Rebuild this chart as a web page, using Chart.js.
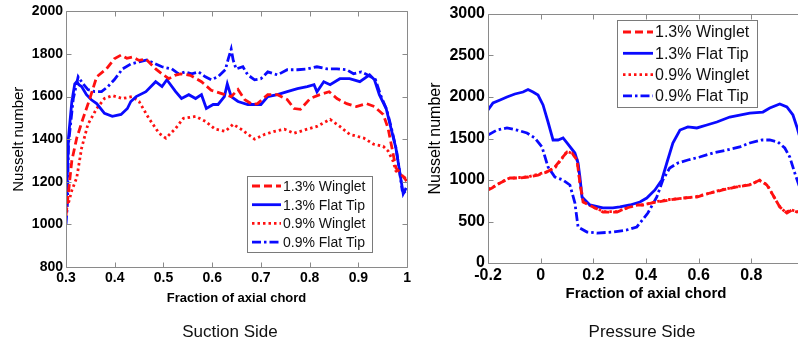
<!DOCTYPE html>
<html>
<head>
<meta charset="utf-8">
<script src="https://cdn.jsdelivr.net/npm/chart.js@4.4.1/dist/chart.umd.min.js"></script>
<style>
  html, body { margin: 0; padding: 0; background: #fff; overflow: hidden; }
  body { width: 798px; height: 344px; position: relative; }
  .panel { position: absolute; top: 0; height: 344px; }
  #suction { left: 0; width: 414px; }
  #pressure { left: 400px; width: 420px; }
  .caption { position: absolute; top: 322px; font: 17px "Liberation Sans", Arial, sans-serif; color: #111; transform: translateX(-50%); white-space: nowrap; }
</style>
</head>
<body>
<div class="panel" id="suction"><canvas id="c1"></canvas></div>
<div class="panel" id="pressure"><canvas id="c2"></canvas></div>
<div class="caption" style="left:230px">Suction Side</div>
<div class="caption" style="left:642px">Pressure Side</div>
<script>
// series labels
const seriesNames = ["1.3% Winglet", "1.3% Flat Tip", "0.9% Winglet", "0.9% Flat Tip"];

// suction side: [fraction of axial chord, Nusselt number]
const sucWinglet13 = [[0.300,1040],[0.305,1150],[0.312,1300],[0.322,1405],[0.335,1498],[0.349,1591],[0.363,1693],[0.383,1730],[0.399,1777],[0.413,1795],[0.425,1780],[0.436,1786],[0.450,1770],[0.464,1777],[0.484,1730],[0.498,1705],[0.511,1684],[0.523,1700],[0.535,1707],[0.555,1700],[0.578,1670],[0.598,1630],[0.618,1615],[0.639,1600],[0.653,1633],[0.667,1585],[0.683,1563],[0.693,1567],[0.714,1609],[0.734,1609],[0.754,1586],[0.768,1544],[0.781,1540],[0.801,1591],[0.821,1609],[0.840,1623],[0.856,1591],[0.876,1567],[0.896,1553],[0.917,1567],[0.933,1553],[0.951,1516],[0.961,1451],[0.977,1265],[0.994,1219],[1.000,1200]];
const sucFlat13 = [[0.300,1080],[0.303,1250],[0.305,1405],[0.312,1577],[0.318,1660],[0.322,1670],[0.327,1655],[0.332,1647],[0.342,1609],[0.352,1585],[0.363,1567],[0.379,1521],[0.395,1507],[0.413,1516],[0.426,1544],[0.433,1577],[0.444,1600],[0.464,1623],[0.484,1670],[0.497,1647],[0.507,1679],[0.525,1623],[0.537,1591],[0.552,1609],[0.566,1591],[0.578,1609],[0.588,1544],[0.602,1563],[0.612,1563],[0.625,1600],[0.631,1660],[0.639,1600],[0.653,1577],[0.673,1563],[0.700,1563],[0.714,1600],[0.734,1609],[0.754,1623],[0.775,1637],[0.795,1647],[0.809,1656],[0.815,1623],[0.829,1670],[0.842,1656],[0.862,1684],[0.882,1684],[0.903,1670],[0.923,1702],[0.933,1679],[0.943,1609],[0.957,1544],[0.967,1451],[0.977,1358],[0.992,1144],[0.998,1172]];
const sucWinglet09 = [[0.300,1080],[0.305,1100],[0.312,1160],[0.322,1219],[0.332,1358],[0.345,1470],[0.363,1544],[0.379,1591],[0.395,1605],[0.416,1591],[0.436,1600],[0.450,1577],[0.470,1498],[0.491,1428],[0.505,1405],[0.525,1451],[0.541,1498],[0.566,1507],[0.586,1484],[0.606,1447],[0.627,1437],[0.643,1470],[0.659,1447],[0.687,1400],[0.708,1423],[0.728,1437],[0.748,1447],[0.768,1428],[0.795,1447],[0.815,1460],[0.842,1493],[0.862,1460],[0.882,1423],[0.911,1405],[0.931,1377],[0.951,1367],[0.961,1344],[0.971,1298],[0.977,1251],[0.994,1219],[1.000,1230]];
const sucFlat09 = [[0.300,1000],[0.303,1100],[0.305,1377],[0.315,1591],[0.325,1693],[0.335,1660],[0.345,1633],[0.359,1623],[0.373,1623],[0.386,1647],[0.399,1679],[0.416,1730],[0.433,1753],[0.450,1763],[0.466,1772],[0.484,1753],[0.497,1740],[0.517,1730],[0.531,1707],[0.545,1716],[0.558,1707],[0.572,1716],[0.586,1693],[0.598,1679],[0.612,1693],[0.627,1726],[0.633,1777],[0.639,1823],[0.643,1772],[0.649,1730],[0.663,1740],[0.673,1702],[0.687,1679],[0.700,1684],[0.714,1716],[0.734,1702],[0.754,1726],[0.775,1726],[0.795,1730],[0.815,1740],[0.836,1730],[0.856,1730],[0.876,1726],[0.890,1707],[0.906,1716],[0.920,1700],[0.935,1680],[0.945,1610],[0.958,1540],[0.968,1450],[0.978,1350],[0.990,1160],[1.000,1140]];

// pressure side
const preWinglet13 = [[-0.200,880],[-0.185,904],[-0.154,964],[-0.117,1024],[-0.079,1024],[-0.048,1036],[-0.010,1060],[0.024,1096],[0.054,1157],[0.081,1265],[0.100,1337],[0.119,1325],[0.138,1241],[0.149,964],[0.161,735],[0.199,675],[0.237,614],[0.290,614],[0.327,663],[0.369,699],[0.388,699],[0.441,735],[0.490,759],[0.540,783],[0.593,795],[0.643,843],[0.692,880],[0.745,916],[0.794,940],[0.832,1000],[0.859,940],[0.882,819],[0.908,675],[0.935,602],[0.954,639],[0.973,614],[1.000,640]];
const preFlat13 = [[-0.200,1843],[-0.181,1928],[-0.154,1964],[-0.128,2000],[-0.098,2036],[-0.067,2060],[-0.048,2090],[-0.029,2060],[-0.010,2024],[0.009,1904],[0.028,1699],[0.047,1482],[0.066,1482],[0.085,1506],[0.100,1446],[0.130,1325],[0.142,1205],[0.149,1036],[0.157,795],[0.187,699],[0.236,663],[0.274,663],[0.301,675],[0.339,699],[0.377,735],[0.403,783],[0.434,880],[0.460,1000],[0.479,1205],[0.502,1446],[0.529,1602],[0.559,1639],[0.593,1627],[0.631,1663],[0.669,1699],[0.718,1759],[0.756,1783],[0.794,1807],[0.844,1819],[0.870,1867],[0.908,1916],[0.935,1880],[0.958,1783],[0.973,1639],[0.990,1450],[1.000,1380]];
const preWinglet09 = [[-0.200,890],[-0.180,915],[-0.150,975],[-0.120,1020],[-0.080,1030],[-0.045,1040],[-0.010,1070],[0.025,1100],[0.055,1150],[0.080,1255],[0.100,1345],[0.120,1320],[0.138,1250],[0.150,960],[0.162,740],[0.200,670],[0.240,620],[0.290,620],[0.330,665],[0.370,705],[0.390,700],[0.440,740],[0.490,765],[0.540,780],[0.590,800],[0.640,840],[0.690,885],[0.745,920],[0.795,945],[0.830,995],[0.860,945],[0.880,830],[0.905,690],[0.930,610],[0.950,640],[0.975,620],[1.000,630]];
const preFlat09 = [[-0.200,1542],[-0.166,1602],[-0.128,1627],[-0.090,1602],[-0.052,1566],[-0.022,1506],[0.005,1398],[0.028,1157],[0.054,1036],[0.085,1000],[0.111,940],[0.130,723],[0.142,434],[0.176,373],[0.214,361],[0.274,373],[0.327,398],[0.365,434],[0.377,482],[0.407,602],[0.441,795],[0.464,1000],[0.490,1145],[0.521,1205],[0.559,1241],[0.604,1277],[0.654,1325],[0.707,1361],[0.756,1398],[0.794,1446],[0.840,1482],[0.870,1482],[0.901,1458],[0.927,1386],[0.946,1277],[0.965,1084],[0.985,900],[1.000,850]];

Chart.defaults.font.family = '"Liberation Sans", Arial, sans-serif';
Chart.defaults.color = '#000';

const RED = '#ff1010', BLUE = '#0a0aff';
const styles = [
  { color: RED,  dash: [8, 4] },
  { color: BLUE, dash: [] },
  { color: RED,  dash: [2.5, 3] },
  { color: BLUE, dash: [9, 3, 2.5, 3] },
];

function makeSets(list) {
  return list.map((pts, i) => ({
    label: seriesNames[i],
    data: pts.map(p => ({ x: p[0], y: p[1] })),
    borderColor: styles[i].color,
    borderDash: styles[i].dash,
    borderWidth: 2.8,
    pointRadius: 0,
    fill: false,
    tension: 0,
  }));
}

// box around the plot with inward ticks on all four sides
const frame = {
  id: 'frame',
  afterDatasetsDraw(chart) {
    const { ctx, chartArea: a, scales } = chart;
    const L = Math.round(a.left) + 0.5, R = Math.round(a.right) + 0.5;
    const T = Math.round(a.top) + 0.5, B = Math.round(a.bottom) + 0.5;
    ctx.save();
    ctx.strokeStyle = '#8a8a8a';
    ctx.lineWidth = 1;
    ctx.setLineDash([]);
    ctx.beginPath();
    ctx.rect(L, T, R - L, B - T);
    scales.x.ticks.forEach(t => {
      const px = Math.round(scales.x.getPixelForValue(t.value)) + 0.5;
      ctx.moveTo(px, B); ctx.lineTo(px, B - 5);
      ctx.moveTo(px, T); ctx.lineTo(px, T + 5);
    });
    scales.y.ticks.forEach(t => {
      const py = Math.round(scales.y.getPixelForValue(t.value)) + 0.5;
      ctx.moveTo(L, py); ctx.lineTo(L + 5, py);
      ctx.moveTo(R, py); ctx.lineTo(R - 5, py);
    });
    ctx.stroke();
    ctx.restore();
  }
};

// legend drawn as a boxed list inside the plot
const boxLegend = {
  id: 'boxLegend',
  afterDraw(chart, args, o) {
    const ctx = chart.ctx;
    ctx.save();
    ctx.fillStyle = '#fff';
    ctx.fillRect(o.x, o.y, o.w, o.h);
    ctx.strokeStyle = '#7a7a7a';
    ctx.lineWidth = 1;
    ctx.strokeRect(o.x + 0.5, o.y + 0.5, o.w, o.h);
    ctx.font = o.font + 'px "Liberation Sans", Arial, sans-serif';
    ctx.textBaseline = 'middle';
    chart.data.datasets.forEach((ds, i) => {
      const yy = o.y + o.first + i * o.row;
      ctx.strokeStyle = ds.borderColor;
      ctx.lineWidth = ds.borderWidth;
      ctx.setLineDash(ds.borderDash);
      ctx.beginPath();
      ctx.moveTo(o.x + o.pad, yy);
      ctx.lineTo(o.x + o.pad + o.sample, yy);
      ctx.stroke();
      ctx.setLineDash([]);
      ctx.fillStyle = '#111';
      ctx.fillText(ds.label, o.x + o.pad + o.sample + 2, yy + 1);
    });
    ctx.restore();
  }
};

function makeOptions(cfg) {
  return {
    responsive: true,
    maintainAspectRatio: false,
    animation: false,
    layout: { autoPadding: false, padding: cfg.padding },
    plugins: {
      legend: { display: false },
      tooltip: { enabled: false },
      boxLegend: cfg.legend,
    },
    scales: {
      x: {
        type: 'linear',
        min: cfg.xMin, max: cfg.xMax,
        afterFit: s => { s.height = cfg.xHeight; },
        grid: { display: false, drawTicks: false },
        border: { display: false },
        ticks: {
          stepSize: cfg.xStep, padding: 3, maxRotation: 0, autoSkip: false,
          font: { size: cfg.tickSize, weight: 'bold' },
          callback: v => String(+v.toFixed(1)),
        },
        title: {
          display: true, text: 'Fraction of axial chord',
          font: { size: cfg.xTitleSize, weight: 'bold' },
          padding: { top: 0, bottom: cfg.xTitlePad },
        },
      },
      y: {
        min: cfg.yMin, max: cfg.yMax,
        afterFit: s => { s.width = cfg.yWidth; },
        grid: { display: false, drawTicks: false },
        border: { display: false },
        ticks: {
          stepSize: cfg.yStep, padding: 3,
          font: { size: cfg.tickSize, weight: 'bold' },
          callback: v => String(v),
        },
        title: {
          display: true, text: 'Nusselt number',
          font: { size: cfg.yTitleSize },
          padding: { top: cfg.yTitlePad, bottom: 0 },
        },
      },
    },
  };
}

new Chart(document.getElementById('c1'), {
  type: 'line',
  data: { datasets: makeSets([sucWinglet13, sucFlat13, sucWinglet09, sucFlat09]) },
  options: makeOptions({
    padding: { left: 0, right: 3, top: 9, bottom: 0 },
    tickSize: 14, xTitleSize: 13, yTitleSize: 15,
    xMin: 0.3, xMax: 1, xStep: 0.1, xHeight: 77, xTitlePad: 38,
    yMin: 800, yMax: 2000, yStep: 200, yWidth: 66, yTitlePad: 10,
    legend: { x: 247, y: 176, w: 125, h: 76, first: 10, row: 18.7, pad: 5, sample: 29, font: 14 },
  }),
  plugins: [frame, boxLegend],
});

new Chart(document.getElementById('c2'), {
  type: 'line',
  data: { datasets: makeSets([preWinglet13, preFlat13, preWinglet09, preFlat09]) },
  options: makeOptions({
    padding: { left: 0, right: 16, top: 14, bottom: 0 },
    tickSize: 16, xTitleSize: 15, yTitleSize: 16,
    xMin: -0.2, xMax: 1, xStep: 0.2, xHeight: 81, xTitlePad: 41,
    yMin: 0, yMax: 3000, yStep: 500, yWidth: 88, yTitlePad: 26,
    legend: { x: 217, y: 20, w: 140, h: 87, first: 12, row: 21.3, pad: 6, sample: 30, font: 16 },
  }),
  plugins: [frame, boxLegend],
});
</script>
</body>
</html>
